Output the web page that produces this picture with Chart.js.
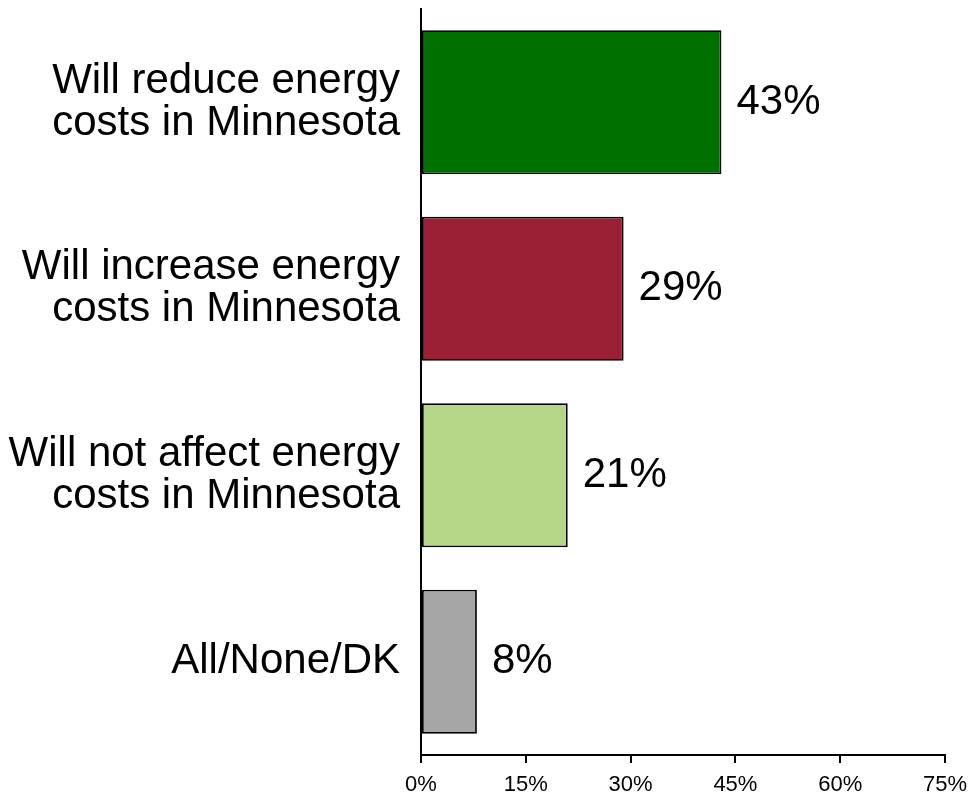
<!DOCTYPE html>
<html>
<head>
<meta charset="utf-8">
<script src="https://cdn.jsdelivr.net/npm/chart.js@4/dist/chart.umd.min.js"></script>
<style>
  body { margin: 0; background: #fff; }
  #wrap { width: 969px; height: 795px; }
</style>
</head>
<body>
<div id="wrap"><canvas id="energy-chart"></canvas></div>
<script>
var categories = [
  ['Will reduce energy', 'costs in Minnesota'],
  ['Will increase energy', 'costs in Minnesota'],
  ['Will not affect energy', 'costs in Minnesota'],
  'All/None/DK'
];
var values = [43, 29, 21, 8];
var barColors = ['#007000', '#9b2035', '#b5d686', '#a6a6a6'];
var xTicks = [0, 15, 30, 45, 60, 75];

var FONT = '"Liberation Sans", Arial, sans-serif';

// percent labels to the right of each bar
var valueLabels = {
  id: 'valueLabels',
  afterDatasetsDraw: function (chart) {
    var ctx = chart.ctx;
    var meta = chart.getDatasetMeta(0);
    ctx.save();
    ctx.font = '42px ' + FONT;
    ctx.fillStyle = '#000';
    ctx.textAlign = 'left';
    ctx.textBaseline = 'middle';
    meta.data.forEach(function (bar, i) {
      ctx.fillText(values[i] + '%', bar.x + 15, bar.y);
    });
    ctx.restore();
  }
};

function printChart() {
  var ctx = document.getElementById('energy-chart');
  new Chart(ctx, {
    type: 'bar',
    data: {
      labels: categories,
      datasets: [{
        data: values,
        backgroundColor: barColors,
        borderColor: '#000',
        borderWidth: 1.8,
        borderSkipped: false,
        categoryPercentage: 1,
        barPercentage: 0.773
      }]
    },
    options: {
      indexAxis: 'y',
      responsive: true,
      maintainAspectRatio: false,
      animation: false,
      layout: { padding: { top: 9, right: 24, left: 0, bottom: 0 } },
      plugins: {
        legend: { display: false },
        tooltip: { enabled: false }
      },
      scales: {
        x: {
          min: 0,
          max: 75,
          afterBuildTicks: function (axis) {
            axis.ticks = xTicks.map(function (v) { return { value: v }; });
          },
          afterFit: function (axis) {
            axis.height = 40;
            axis.paddingLeft = 0;
            axis.paddingRight = 0;
          },
          grid: { drawOnChartArea: false, drawTicks: true, tickLength: 8, color: '#000', lineWidth: 2 },
          border: { color: '#000', width: 2 },
          ticks: {
            color: '#000',
            padding: 9,
            maxRotation: 0,
            font: { family: FONT, size: 22 },
            callback: function (v) { return v + '%'; }
          }
        },
        y: {
          afterFit: function (axis) {
            axis.width = 421;
            axis.paddingTop = 0;
            axis.paddingBottom = 0;
          },
          grid: { display: false, drawTicks: false },
          border: { color: '#000', width: 2 },
          ticks: {
            color: '#000',
            padding: 21,
            font: { family: FONT, size: 42, lineHeight: 1.0 }
          }
        }
      }
    },
    plugins: [valueLabels]
  });
}

printChart();
</script>
</body>
</html>
